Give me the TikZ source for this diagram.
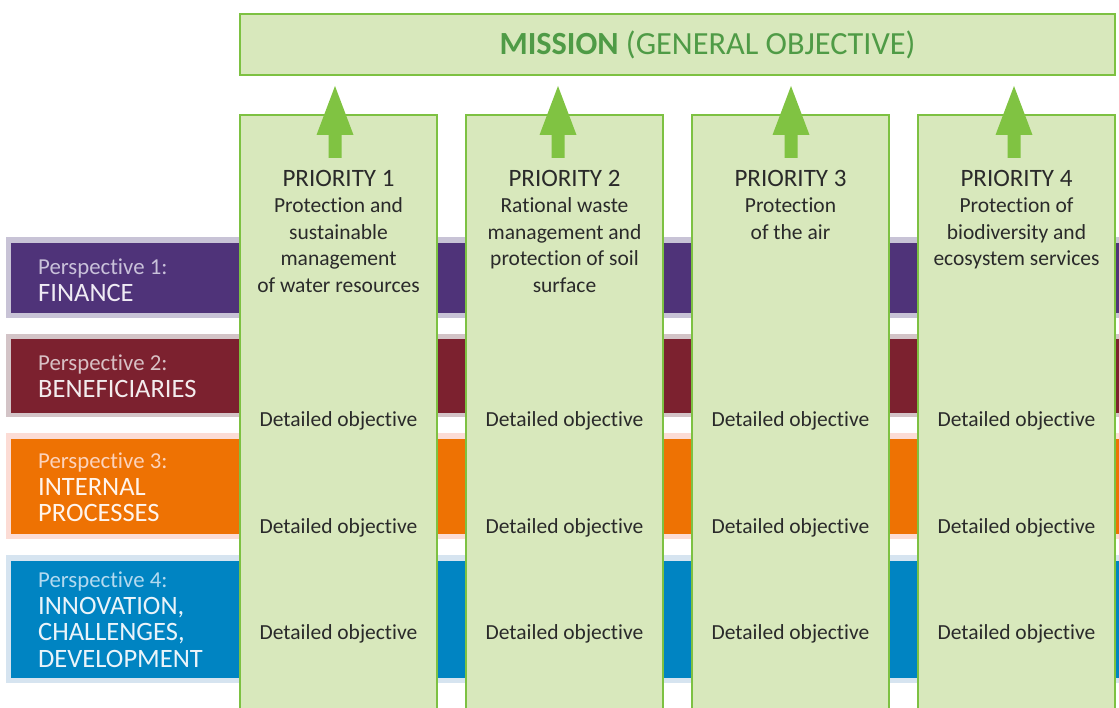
\documentclass[tikz,border=0pt]{standalone}
\usepackage{fontspec}
\setmainfont{Carlito}[Ligatures=CommonOff]
\definecolor{colfill}{HTML}{D8E8BC}
\definecolor{colline}{HTML}{7DC142}
\definecolor{arrowgreen}{HTML}{80C342}
\definecolor{missiongreen}{HTML}{4F9B46}
\definecolor{txt}{HTML}{2A2A2A}
\definecolor{pA}{HTML}{4F3379}\definecolor{pAb}{HTML}{C8C3D6}
\definecolor{pAt}{HTML}{C9C1DA}\definecolor{pAw}{HTML}{EFEBF4}
\definecolor{pB}{HTML}{7C212F}\definecolor{pBb}{HTML}{D3C4C7}
\definecolor{pBt}{HTML}{D8C0C4}\definecolor{pBw}{HTML}{F3ECED}
\definecolor{pC}{HTML}{EE7203}\definecolor{pCb}{HTML}{FCDCD5}
\definecolor{pCt}{HTML}{FCD3BC}\definecolor{pCw}{HTML}{FFF4EC}
\definecolor{pD}{HTML}{0084C2}\definecolor{pDb}{HTML}{D6E4F0}
\definecolor{pDt}{HTML}{B3DAF0}\definecolor{pDw}{HTML}{EAF4FA}
\newcommand{\capsP}[1]{{\fontsize{26.5}{26.7}\selectfont #1}}
\newcommand{\capsR}[1]{{\fontsize{25}{26.5}\selectfont #1}}
\begin{document}
\begin{tikzpicture}[x=1pt,y=-1pt,
  colbox/.style={draw=colline,fill=colfill,line width=2.5pt},
  bodytext/.style={font=\fontsize{21.5}{26.5}\selectfont,text=txt,inner sep=0pt},
  perstext/.style={font=\fontsize{22.8}{26.7}\selectfont,inner sep=0pt,align=left,anchor=north west},
  uparrow/.style={fill=arrowgreen,draw=none}]
\useasboundingbox (0,0) rectangle (1119,708);
% perspective bars
\fill[pAb] (6,237) rectangle (1130,318);
\fill[pA] (11,243) rectangle (1130,313);
\fill[pBb] (6,334) rectangle (1130,417);
\fill[pB] (11,339) rectangle (1130,413);
\fill[pCb] (6,433) rectangle (1130,539);
\fill[pC] (11,439) rectangle (1130,534);
\fill[pDb] (6,555) rectangle (1130,683);
\fill[pD] (11,561) rectangle (1130,678);
\node[perstext] (p1) at (38,258.5) {\textcolor{pAt}{Perspective 1:}\\\textcolor{pAw}{\capsP{FINANCE}}};
\node[perstext] (p2) at (38,354.5) {\textcolor{pBt}{Perspective 2:}\\\textcolor{pBw}{\capsP{BENEFICIARIES}}};
\node[perstext] (p3) at (38,452.5) {\textcolor{pCt}{Perspective 3:}\\\textcolor{pCw}{\capsP{INTERNAL}}\\\textcolor{pCw}{\capsP{PROCESSES}}};
\node[perstext] (p4) at (38,571.5) {\textcolor{pDt}{Perspective 4:}\\\textcolor{pDw}{\capsP{INNOVATION,}}\\\textcolor{pDw}{\capsP{CHALLENGES,}}\\\textcolor{pDw}{\capsP{DEVELOPMENT}}};
% mission
\draw[colbox] (240,14) rectangle (1115,75);
\node[inner sep=0pt,anchor=base,text=missiongreen,font=\fontsize{32.3}{36}\selectfont] (mission) at (707.5,55) {\textbf{MISSION} (GENERAL OBJECTIVE)};
% columns
\foreach \l/\ax/\n in {240/335/1,466/558/2,692/791/3,918/1014/4}{
  \draw[colbox] (\l,115) rectangle ({\l+197},730);
  \fill[uparrow] ({\ax-6.5},158) -- ({\ax-6.5},135) -- ({\ax-18.5},135) -- (\ax,86) -- ({\ax+18.5},135) -- ({\ax+6.5},135) -- ({\ax+6.5},158) -- cycle;
  \foreach \yy/\m in {426/a,533/b,639/c}
    \node[bodytext,anchor=base] (d\n\m) at ({\l+98.5},\yy) {Detailed objective};
}
\node[bodytext,anchor=north,align=center] (pr1) at (338.5,170) {\capsR{PRIORITY 1}\\Protection and\\sustainable\\management\\of water resources};
\node[bodytext,anchor=north,align=center] (pr2) at (564.5,170) {\capsR{PRIORITY 2}\\Rational waste\\management and\\protection of soil\\surface};
\node[bodytext,anchor=north,align=center] (pr3) at (790.5,170) {\capsR{PRIORITY 3}\\Protection\\of the air};
\node[bodytext,anchor=north,align=center] (pr4) at (1016.5,170) {\capsR{PRIORITY 4}\\Protection of\\biodiversity and\\ecosystem services};
\end{tikzpicture}
\end{document}
